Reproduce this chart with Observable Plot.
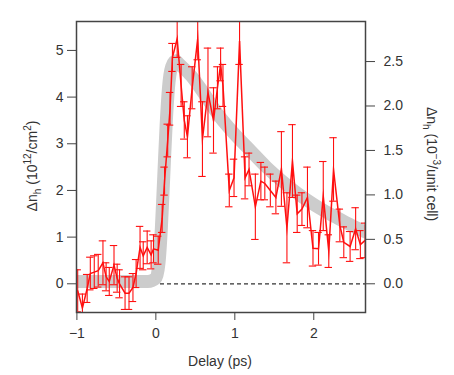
<!DOCTYPE html>
<html><head><meta charset="utf-8">
<script src="https://cdn.jsdelivr.net/npm/d3@7"></script>
<script src="https://cdn.jsdelivr.net/npm/@observablehq/plot@0.6"></script>
<style>body{margin:0;background:#fff;} svg{display:block}</style>
</head><body><div id="chart"></div>
<script>
// Measured pump-probe data (Delay in ps, Δn_h in 10^12/cm^2, error bar half-width)
const delay = [-0.99,-0.93,-0.87,-0.83,-0.78,-0.73,-0.67,-0.63,-0.59,-0.53,-0.49,-0.46,-0.39,-0.34,-0.29,-0.25,-0.20,-0.16,-0.11,-0.06,-0.03,0.03,0.08,0.11,0.15,0.18,0.21,0.27,0.32,0.36,0.40,0.46,0.53,0.59,0.66,0.73,0.78,0.82,0.85,0.93,0.99,1.06,1.13,1.18,1.26,1.33,1.38,1.45,1.52,1.59,1.66,1.73,1.79,1.85,1.92,1.99,2.06,2.12,2.19,2.25,2.33,2.38,2.46,2.53,2.59,2.65];
const dn = [-0.15,-0.52,-0.10,0.22,0.25,0.28,0.45,0.15,0.05,0.40,0.12,0.00,-0.20,-0.20,-0.08,0.22,0.78,0.60,0.78,0.62,0.75,0.72,1.40,2.20,3.07,3.75,4.85,5.25,4.25,3.50,3.15,4.20,5.25,3.10,4.10,3.50,4.20,4.70,4.25,2.00,2.27,5.20,2.27,2.45,1.65,2.20,2.15,2.00,1.85,2.46,1.20,2.63,1.50,1.60,1.85,0.76,0.75,1.88,0.70,2.45,1.25,0.89,0.80,1.18,0.84,0.93];
const dnErr = [0.45,0.30,0.30,0.35,0.35,0.35,0.47,0.30,0.30,0.42,0.30,0.30,0.35,0.35,0.30,0.30,0.45,0.30,0.35,0.30,0.30,0.30,0.30,0.30,0.35,0.35,0.30,0.40,0.45,0.40,0.45,0.45,0.45,0.80,0.95,0.70,0.45,0.35,0.45,0.35,0.40,0.50,0.45,0.35,0.70,0.40,0.35,0.35,0.35,0.80,0.75,0.78,0.40,0.35,0.65,0.38,0.35,0.74,0.35,0.68,0.35,0.33,0.32,0.45,0.30,0.37];
// Fit curve (gray band)
const fitDelay = [-1.10,-0.10,0.00,0.04,0.07,0.10,0.13,0.16,0.20,0.25,0.30,0.45,0.60,0.80,1.00,1.20,1.40,1.60,1.80,2.00,2.20,2.40,2.60,2.75];
const fitDn = [0.05,0.05,0.12,0.45,1.20,2.30,3.40,4.20,4.65,4.78,4.70,4.45,4.10,3.60,3.20,2.85,2.50,2.20,1.93,1.70,1.50,1.32,1.15,1.05];
const xTicks = [-1,0,1,2];
const leftTicks = [0,1,2,3,4,5];
const rightTicks = [0,0.5,1,1.5,2,2.5];
const unitRatio = 0.525; // 10^-3/unit cell per 10^12/cm^2

const data = delay.map((t,i)=>({t, v: dn[i], e: dnErr[i]}));
const fit = fitDelay.map((t,i)=>({t, v: fitDn[i]}));
const capHalf = 0.047;
const red = "#ff1010";
const intFmt = d3.format("d");

const plot = Plot.plot({
  width: 454, height: 375,
  marginLeft: 76, marginRight: 89, marginTop: 21, marginBottom: 63,
  x: {domain: [-1.005, 2.655]},
  y: {domain: [-0.615, 5.62]},
  style: {fontFamily: "'Liberation Sans', Arial, sans-serif", fontSize: "14px", color: "#333", background: "#fff"},
  marks: [
    Plot.ruleY([0], {stroke: "#333", strokeDasharray: "4,3", strokeWidth: 1.2}),
    Plot.line(fit, {x: "t", y: "v", stroke: "#cccccc", strokeWidth: 13, curve: "monotone-x", clip: true}),
    Plot.ruleX(data, {x: "t", y1: d => d.v - d.e, y2: d => d.v + d.e, stroke: red, strokeWidth: 1.1, clip: true}),
    Plot.ruleY(data, {y: d => d.v - d.e, x1: d => d.t - capHalf, x2: d => d.t + capHalf, stroke: red, strokeWidth: 1.1, clip: true}),
    Plot.ruleY(data, {y: d => d.v + d.e, x1: d => d.t - capHalf, x2: d => d.t + capHalf, stroke: red, strokeWidth: 1.1, clip: true}),
    Plot.line(data, {x: "t", y: "v", stroke: red, strokeWidth: 1.5, strokeLinejoin: "miter", strokeMiterlimit: 20, clip: true}),
    Plot.frame({stroke: "#444", strokeWidth: 1.5}),
    Plot.axisX({ticks: xTicks, tickFormat: intFmt, tickSize: 8, tickPadding: 8, label: null, stroke: "#444"}),
    Plot.axisY({ticks: leftTicks, tickFormat: intFmt, tickSize: 9, tickPadding: 4, label: null, stroke: "#444"}),
    Plot.axisY({anchor: "right", ticks: rightTicks.map(r => r / unitRatio), tickFormat: d => (d * unitRatio).toFixed(1), tickSize: 9, tickPadding: 9, label: null, stroke: "#444"})
  ]
});

const svg = d3.select(plot);
function label(x, y, rot, parts) {
  const t = svg.append("text")
    .attr("transform", `translate(${x},${y}) rotate(${rot})`)
    .attr("text-anchor", "middle")
    .attr("fill", "#333")
    .attr("font-size", 14)
    .attr("font-family", "'Liberation Sans', Arial, sans-serif");
  let shift = 0;
  for (const [txt, kind] of parts) {
    const sp = t.append("tspan").text(txt);
    let target = kind === "sub" ? 4 : kind === "sup" ? -6 : 0;
    sp.attr("dy", target - shift);
    shift = target;
    if (kind) sp.attr("font-size", 10);
  }
}
label(220, 366, 0, [["Delay (ps)", null]]);
label(37, 166, -90, [["Δn", null], ["h", "sub"], [" (10", null], ["12", "sup"], ["/cm", null], ["2", "sup"], [")", null]]);
label(427, 164, 90, [["Δn", null], ["h", "sub"], [" (10", null], ["−3", "sup"], ["/unit cell", null], [")", null]]);

document.getElementById("chart").appendChild(plot);
</script>
</body></html>
